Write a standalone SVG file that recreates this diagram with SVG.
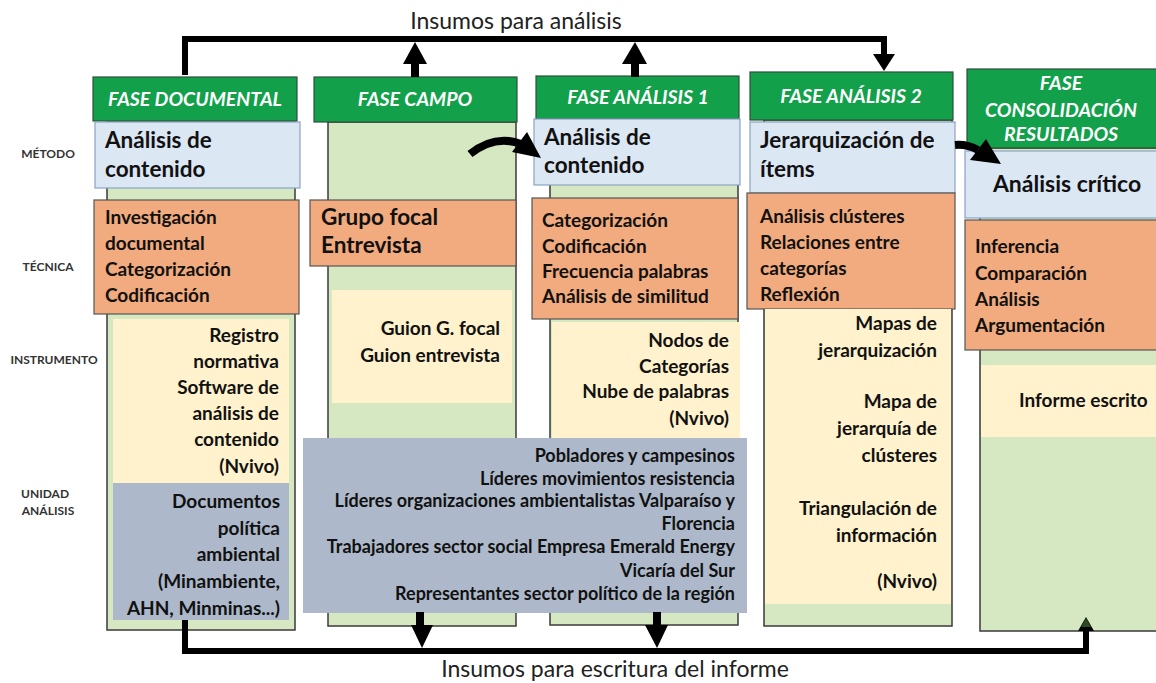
<svg xmlns="http://www.w3.org/2000/svg" width="1156" height="683" viewBox="0 0 1156 683">
<defs>
<style>
.bg{fill:#d5e8c2;stroke:#3a3a3a;stroke-width:1.5}
.hd{fill:#12a04a;stroke:#2f4f3a;stroke-width:1.2}
.bl{fill:#dce7f4;stroke:#8aa3c4;stroke-width:1.2}
.or{fill:#f1ab7e;stroke:#555;stroke-width:1.2}
.cr{fill:#fff2cc}
.gr{fill:#adb9ca}
text{font-family:Lato,"Liberation Sans",sans-serif;font-weight:bold;fill:#111}
.h{fill:#fff;font-style:italic;font-size:19.5px;text-anchor:middle}
.m{font-size:22.5px}
.t{font-size:19px}
.g{font-size:18px}
.r{text-anchor:end}
.lab{font-size:12px;fill:#333;text-anchor:middle}
.ins{font-weight:normal;font-size:23px;fill:#222}
.ln{fill:none;stroke:#000;stroke-width:6}
</style>
</defs>
<rect width="1156" height="683" fill="#fff"/>

<g id="labels">
<text class="lab" x="48" y="158">MÉTODO</text>
<text class="lab" x="48" y="271">TÉCNICA</text>
<text class="lab" x="54" y="364">INSTRUMENTO</text>
<text class="lab" x="45" y="498">UNIDAD</text>
<text class="lab" x="48" y="515">ANÁLISIS</text>
</g>

<g id="fase-documental">
<rect class="bg" x="107" y="121" width="188" height="509"/>
<rect class="hd" x="93" y="77" width="204" height="44"/>
<text class="h" x="195" y="106">FASE DOCUMENTAL</text>
<rect class="bl" x="95" y="122" width="205" height="66"/>
<text class="m" x="105" y="148">Análisis de</text>
<text class="m" x="105" y="177">contenido</text>
<rect class="or" x="94" y="200" width="205" height="114"/>
<text class="t" x="105" y="224">Investigación</text>
<text class="t" x="105" y="250">documental</text>
<text class="t" x="105" y="276">Categorización</text>
<text class="t" x="105" y="302">Codificación</text>
<rect class="cr" x="113" y="319" width="176" height="164"/>
<text class="t r" x="279" y="342">Registro</text>
<text class="t r" x="279" y="368">normativa</text>
<text class="t r" x="279" y="394">Software de</text>
<text class="t r" x="279" y="420">análisis de</text>
<text class="t r" x="279" y="446">contenido</text>
<text class="t r" x="279" y="473">(Nvivo)</text>
<rect class="gr" x="113" y="483" width="176" height="137"/>
<text class="t r" x="280" y="508">Documentos</text>
<text class="t r" x="280" y="535">política</text>
<text class="t r" x="280" y="561">ambiental</text>
<text class="t r" x="280" y="588">(Minambiente,</text>
<text class="t r" x="280" y="615">AHN, Minminas...)</text>
</g>

<g id="fase-campo">
<rect class="bg" x="328" y="122" width="188" height="504"/>
<rect class="hd" x="314" y="77" width="203" height="45"/>
<text class="h" x="415" y="106">FASE CAMPO</text>
<rect class="or" x="310" y="200" width="206" height="66"/>
<text class="t" x="321" y="225" style="font-size:22.5px">Grupo focal</text>
<text class="t" x="321" y="253" style="font-size:22.5px">Entrevista</text>
<rect class="cr" x="332" y="290" width="180" height="113"/>
<text class="t r" x="500" y="335">Guion G. focal</text>
<text class="t r" x="500" y="362">Guion entrevista</text>
</g>

<g id="fase-analisis-1">
<rect class="bg" x="550" y="119" width="188" height="506"/>
<rect class="hd" x="536" y="76" width="203" height="43"/>
<text class="h" x="638" y="104">FASE ANÁLISIS 1</text>
<rect class="bl" x="534" y="119" width="206" height="66"/>
<text class="m" x="544" y="145">Análisis de</text>
<text class="m" x="544" y="173">contenido</text>
<rect class="or" x="532" y="198" width="206" height="121"/>
<text class="t" x="542" y="227">Categorización</text>
<text class="t" x="542" y="253">Codificación</text>
<text class="t" x="542" y="278">Frecuencia palabras</text>
<text class="t" x="542" y="303">Análisis de similitud</text>
<rect class="cr" x="552" y="322" width="188" height="116"/>
<text class="t r" x="729" y="347">Nodos de</text>
<text class="t r" x="729" y="373">Categorías</text>
<text class="t r" x="729" y="398">Nube de palabras</text>
<text class="t r" x="729" y="425">(Nvivo)</text>
</g>

<g id="unidad-analisis-campo">
<rect class="gr" x="303" y="438" width="444" height="175"/>
<text class="g r" x="735" y="462">Pobladores y campesinos</text>
<text class="g r" x="735" y="485">Líderes movimientos resistencia</text>
<text class="g r" x="735" y="507">Líderes organizaciones ambientalistas Valparaíso y</text>
<text class="g r" x="735" y="530">Florencia</text>
<text class="g r" x="735" y="553">Trabajadores sector social Empresa Emerald Energy</text>
<text class="g r" x="735" y="577">Vicaría del Sur</text>
<text class="g r" x="735" y="600">Representantes sector político de la región</text>
</g>

<g id="fase-analisis-2">
<rect class="bg" x="764" y="120" width="188" height="506"/>
<rect class="hd" x="750" y="72" width="203" height="48"/>
<text class="h" x="851" y="103">FASE ANÁLISIS 2</text>
<rect class="bl" x="750" y="122" width="205" height="71"/>
<text class="m" x="760" y="148">Jerarquización de</text>
<text class="m" x="760" y="177">ítems</text>
<rect class="or" x="747" y="193" width="208" height="116"/>
<text class="t" x="760" y="223">Análisis clústeres</text>
<text class="t" x="760" y="249">Relaciones entre</text>
<text class="t" x="760" y="275">categorías</text>
<text class="t" x="760" y="301">Reflexión</text>
<rect class="cr" x="765" y="309" width="186" height="295"/>
<text class="t r" x="937" y="330">Mapas de</text>
<text class="t r" x="937" y="357">jerarquización</text>
<text class="t r" x="937" y="408">Mapa de</text>
<text class="t r" x="937" y="435">jerarquía de</text>
<text class="t r" x="937" y="462">clústeres</text>
<text class="t r" x="937" y="515">Triangulación de</text>
<text class="t r" x="937" y="542">información</text>
<text class="t r" x="937" y="588">(Nvivo)</text>
</g>

<g id="fase-consolidacion">
<rect class="bg" x="980" y="148" width="190" height="483"/>
<rect class="hd" x="967" y="69" width="200" height="79"/>
<text class="h" x="1061" y="90">FASE</text>
<text class="h" x="1061" y="117">CONSOLIDACIÓN</text>
<text class="h" x="1061" y="141">RESULTADOS</text>
<rect class="bl" x="965" y="151" width="200" height="67"/>
<text class="m" x="1067" y="192" text-anchor="middle" style="font-size:23px">Análisis crítico</text>
<rect class="or" x="965" y="220" width="200" height="130"/>
<text class="t" x="975" y="253">Inferencia</text>
<text class="t" x="975" y="280">Comparación</text>
<text class="t" x="975" y="306">Análisis</text>
<text class="t" x="975" y="332">Argumentación</text>
<rect class="cr" x="981" y="365" width="180" height="72"/>
<text class="t" x="1019" y="407">Informe escrito</text>
</g>

<g id="connectors">
<path class="ln" d="M185,75 V39 H884 V56"/>
<polygon points="873,54 895,54 884,71" fill="#000"/>
<rect x="411" y="60" width="8" height="17" fill="#000"/>
<polygon points="403,64 427,64 415,42" fill="#000"/>
<rect x="631" y="60" width="8" height="17" fill="#000"/>
<polygon points="622,64 647,64 635,42" fill="#000"/>
<text class="ins" x="516" y="29" text-anchor="middle">Insumos para análisis</text>

<path class="ln" d="M185,620 V651 H1086 V628"/>
<polygon points="1078,631 1094,631 1086,617" fill="#000"/>
<polygon points="1081,627 1091,627 1086,618" fill="#2e4a1f"/>
<rect x="416" y="612" width="8" height="16" fill="#000"/>
<polygon points="411,625 433,625 422,648" fill="#000"/>
<rect x="653" y="612" width="8" height="16" fill="#000"/>
<polygon points="645,625 668,625 657,648" fill="#000"/>
<text class="ins" x="615" y="677" text-anchor="middle">Insumos para escritura del informe</text>

<path d="M470,154 Q495,134 521,144" fill="none" stroke="#000" stroke-width="8"/>
<polygon points="512,152 527,132 541,158" fill="#000"/>
<path d="M955,145 Q967,144 978,150" fill="none" stroke="#000" stroke-width="8"/>
<polygon points="970,160 986,139 1001,164" fill="#000"/>
</g>
</svg>
